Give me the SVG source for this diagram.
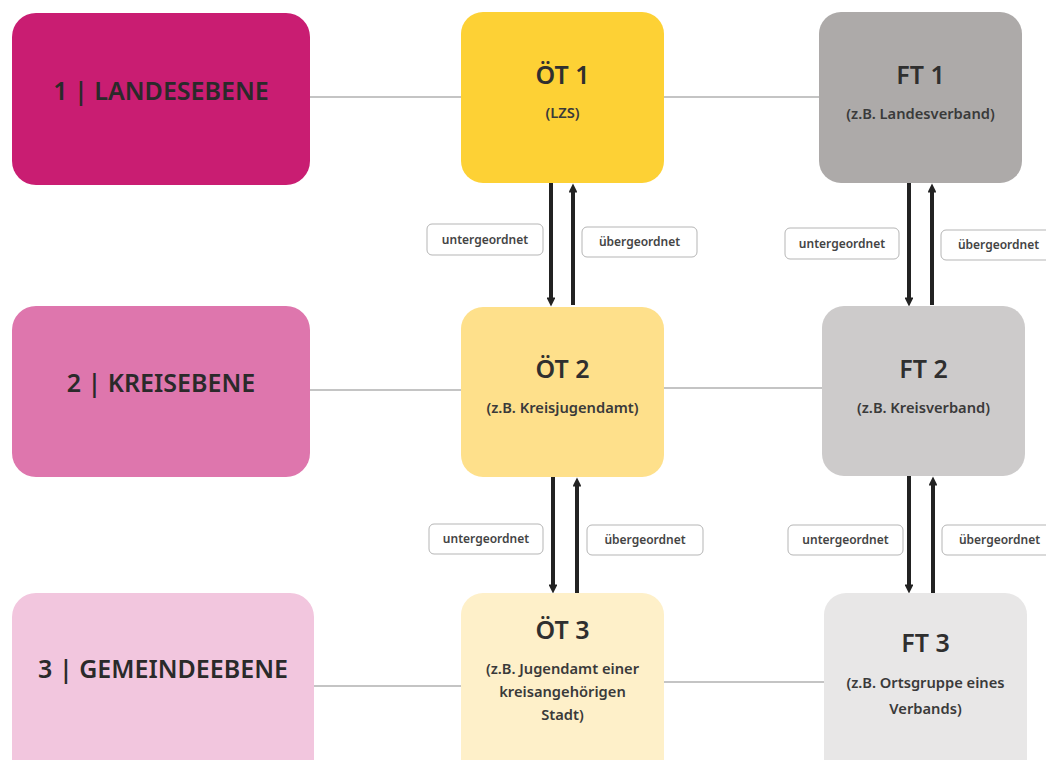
<svg xmlns="http://www.w3.org/2000/svg" width="1046" height="760" viewBox="0 0 1046 760">
  <defs>
    <marker id="head" viewBox="0 0 10 10" refX="5" refY="5" markerWidth="2.4" markerHeight="2.2" orient="auto-start-reverse" markerUnits="strokeWidth">
      <path d="M0,0 L10,5 L0,10 z" fill="#222"/>
    </marker>
    <style>
      .lvl { font-family: "Noto Sans", "Open Sans", sans-serif; font-weight: 600; fill: #2a2a2a; text-anchor: middle; }
      .title { font-family: "Noto Sans", "Open Sans", sans-serif; font-weight: 600; font-size: 25px; fill: #2f2f2f; text-anchor: middle; }
      .sub { font-family: "Noto Sans", "Open Sans", sans-serif; font-weight: 600; font-size: 14.7px; fill: #3a3a3a; text-anchor: middle; }
      .tag rect { fill: #fff; stroke: #b5b5b5; stroke-width: 1; }
      .tag text { font-family: "Noto Sans", "Open Sans", sans-serif; font-weight: 600; font-size: 12px; fill: #444; text-anchor: middle; }
      .hline { stroke: #b0b0b0; stroke-width: 1.5; fill: none; }
      .arr { stroke: #222; stroke-width: 4; fill: none; marker-end: url(#head); }
    </style>
  </defs>

  <rect width="1046" height="760" fill="#ffffff"/>

  <!-- horizontal connectors and hierarchy arrows -->
  <g id="connectors">
    <line class="hline" x1="310" y1="97" x2="461" y2="97"/>
    <line class="hline" x1="664" y1="97" x2="819" y2="97"/>
    <line class="hline" x1="310" y1="390" x2="461" y2="390"/>
    <line class="hline" x1="664" y1="388" x2="822" y2="388"/>
    <line class="hline" x1="314" y1="686" x2="461" y2="686"/>
    <line class="hline" x1="664" y1="682" x2="824" y2="682"/>

    <!-- level 1 to level 2 -->
    <line class="arr" x1="551" y1="183" x2="551" y2="302"/>
    <line class="arr" x1="573" y1="305" x2="573" y2="188"/>
    <line class="arr" x1="909" y1="183" x2="909" y2="302"/>
    <line class="arr" x1="932" y1="305" x2="932" y2="188"/>
    <!-- level 2 to level 3 -->
    <line class="arr" x1="553" y1="477" x2="553" y2="589"/>
    <line class="arr" x1="577" y1="593" x2="577" y2="482"/>
    <line class="arr" x1="909" y1="476" x2="909" y2="589"/>
    <line class="arr" x1="933" y1="593" x2="933" y2="481"/>

    <g class="tag"><rect x="427" y="224" width="116" height="31" rx="5"/><text x="485" y="244">untergeordnet</text></g>
    <g class="tag"><rect x="582" y="227" width="115" height="30" rx="5"/><text x="639.5" y="246">übergeordnet</text></g>
    <g class="tag"><rect x="785" y="228" width="114" height="31" rx="5"/><text x="842" y="248">untergeordnet</text></g>
    <g class="tag"><rect x="941" y="230" width="115" height="30" rx="5"/><text x="998.5" y="249">übergeordnet</text></g>
    <g class="tag"><rect x="429" y="524" width="114" height="30" rx="5"/><text x="486" y="543">untergeordnet</text></g>
    <g class="tag"><rect x="587" y="525" width="116" height="30" rx="5"/><text x="645" y="544">übergeordnet</text></g>
    <g class="tag"><rect x="788" y="525" width="115" height="30" rx="5"/><text x="845.5" y="544">untergeordnet</text></g>
    <g class="tag"><rect x="942" y="525" width="115" height="30" rx="5"/><text x="999.5" y="544">übergeordnet</text></g>
  </g>

  <!-- level column -->
  <g id="landesebene">
    <rect x="12" y="13" width="298" height="172" rx="24" fill="#c91d72"/>
    <text class="lvl" x="161" y="100" font-size="25">1 | LANDESEBENE</text>
  </g>
  <g id="kreisebene">
    <rect x="12" y="306" width="298" height="171" rx="24" fill="#de76ad"/>
    <text class="lvl" x="161" y="392" font-size="25">2 | KREISEBENE</text>
  </g>
  <g id="gemeindeebene">
    <rect x="12" y="593" width="302" height="190" rx="24" fill="#f2c6de"/>
    <text class="lvl" x="163" y="678" font-size="25">3 | GEMEINDEEBENE</text>
  </g>

  <!-- public bodies (ÖT) -->
  <g id="oet1">
    <rect x="461" y="12" width="203" height="171" rx="22" fill="#fdd135"/>
    <text class="title" x="562.5" y="84">ÖT 1</text>
    <text class="sub" x="562.5" y="118">(LZS)</text>
  </g>
  <g id="oet2">
    <rect x="461" y="307" width="203" height="170" rx="22" fill="#fee08b"/>
    <text class="title" x="562.5" y="378">ÖT 2</text>
    <text class="sub" x="562.5" y="413">(z.B. Kreisjugendamt)</text>
  </g>
  <g id="oet3">
    <rect x="461" y="593" width="203" height="190" rx="22" fill="#fef0c9"/>
    <text class="title" x="562.5" y="639">ÖT 3</text>
    <text class="sub" x="562.5" y="674">(z.B. Jugendamt einer</text>
    <text class="sub" x="562.5" y="697">kreisangehörigen</text>
    <text class="sub" x="562.5" y="720">Stadt)</text>
  </g>

  <!-- independent bodies (FT) -->
  <g id="ft1">
    <rect x="819" y="12" width="203" height="171" rx="22" fill="#adaaa9"/>
    <text class="title" x="920.5" y="84">FT 1</text>
    <text class="sub" x="920.5" y="119">(z.B. Landesverband)</text>
  </g>
  <g id="ft2">
    <rect x="822" y="306" width="203" height="170" rx="22" fill="#cdcbcb"/>
    <text class="title" x="923.5" y="378">FT 2</text>
    <text class="sub" x="923.5" y="413">(z.B. Kreisverband)</text>
  </g>
  <g id="ft3">
    <rect x="824" y="593" width="203" height="190" rx="22" fill="#e8e7e7"/>
    <text class="title" x="925.5" y="652">FT 3</text>
    <text class="sub" x="925.5" y="688">(z.B. Ortsgruppe eines</text>
    <text class="sub" x="925.5" y="714">Verbands)</text>
  </g>
</svg>
